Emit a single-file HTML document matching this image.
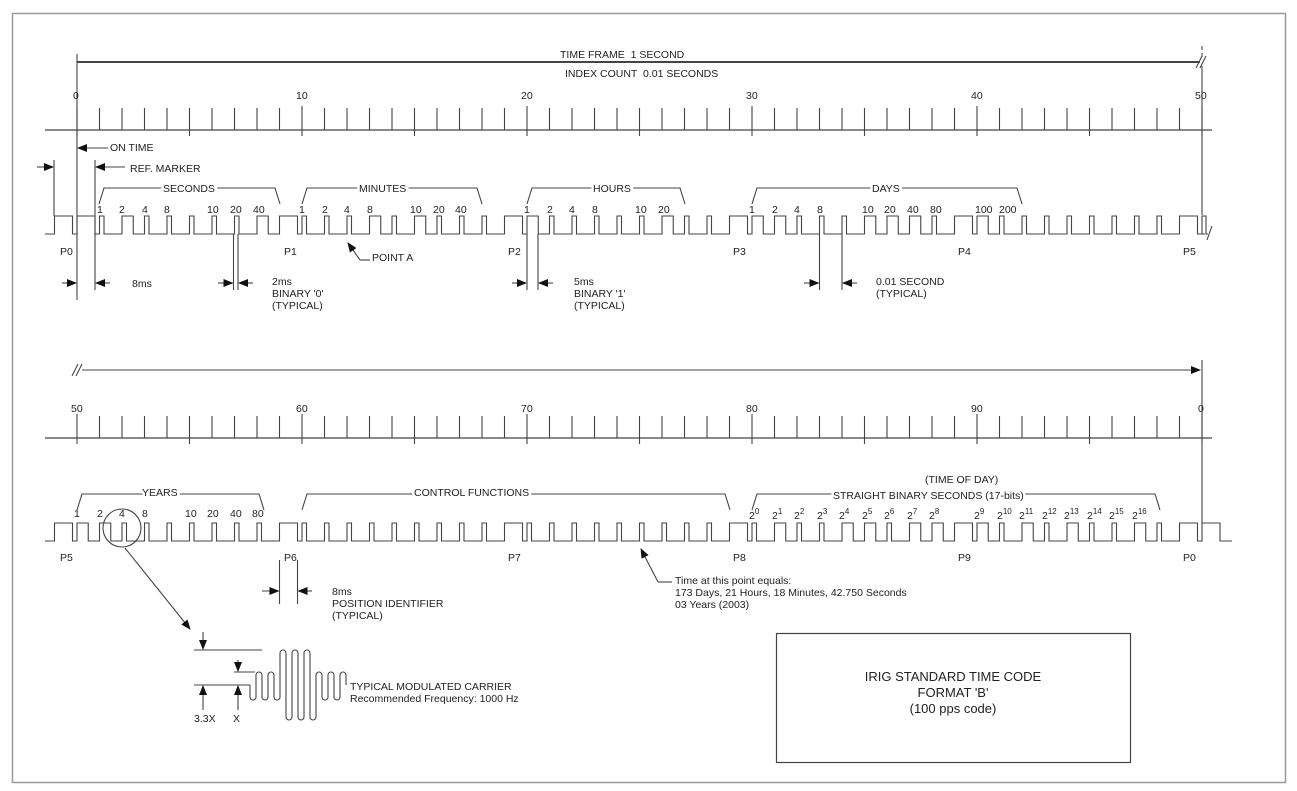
<!DOCTYPE html>
<html><head><meta charset="utf-8">
<style>
html,body{margin:0;padding:0;background:#fff;}
svg{display:block;}
text{font-family:"Liberation Sans",sans-serif;font-size:10.5px;fill:#222;}
.s{font-size:10px;}
.b{font-size:13px;}
.k{stroke:#fff;stroke-width:5px;paint-order:stroke;}
</style></head>
<body>
<svg id="sv" width="1297" height="791" viewBox="0 0 1297 791" xmlns="http://www.w3.org/2000/svg">
<defs>
<marker id="ah" markerWidth="10" markerHeight="8" refX="9" refY="4" orient="auto" markerUnits="userSpaceOnUse">
<path d="M0,0 L10,4 L0,8 z" fill="#111"/></marker>
</defs>
<rect x="12.5" y="13.5" width="1273" height="769" fill="none" stroke="#999" stroke-width="1.5"/>
<g id="g" fill="none" stroke="#444" stroke-width="1.1"></g>
<g id="labels">
<!-- Time frame -->
<text x="560" y="58">TIME FRAME &#160;1 SECOND</text>
<text x="565" y="77">INDEX COUNT &#160;0.01 SECONDS</text>

<text x="73" y="99">0</text><text x="296" y="99">10</text><text x="521" y="99">20</text>
<text x="746" y="99">30</text><text x="971" y="99">40</text><text x="1195" y="99">50</text>
<text x="71" y="412">50</text><text x="296" y="412">60</text><text x="521" y="412">70</text>
<text x="746" y="412">80</text><text x="971" y="412">90</text><text x="1198" y="412">0</text>

<text x="110" y="151">ON TIME</text>
<text x="130" y="172">REF. MARKER</text>

<text class="k" x="163" y="192">SECONDS</text>
<text class="k" x="359" y="192">MINUTES</text>
<text class="k" x="593" y="192">HOURS</text>
<text class="k" x="872" y="192">DAYS</text>

<g class="s">
<text x="97" y="213">1</text><text x="119" y="213">2</text><text x="142" y="213">4</text><text x="164" y="213">8</text>
<text x="207" y="213">10</text><text x="230" y="213">20</text><text x="253" y="213">40</text>
<text x="299" y="213">1</text><text x="322" y="213">2</text><text x="344" y="213">4</text><text x="367" y="213">8</text>
<text x="410" y="213">10</text><text x="433" y="213">20</text><text x="455" y="213">40</text>
<text x="524" y="213">1</text><text x="547" y="213">2</text><text x="569" y="213">4</text><text x="592" y="213">8</text>
<text x="635" y="213">10</text><text x="658" y="213">20</text>
<text x="749" y="213">1</text><text x="772" y="213">2</text><text x="794" y="213">4</text><text x="817" y="213">8</text>
<text x="862" y="213">10</text><text x="884" y="213">20</text><text x="907" y="213">40</text><text x="930" y="213">80</text>
<text x="975" y="213">100</text><text x="999" y="213">200</text>
</g>

<text x="60" y="255">P0</text><text x="284" y="255">P1</text><text x="508" y="255">P2</text>
<text x="733" y="255">P3</text><text x="958" y="255">P4</text><text x="1183" y="255">P5</text>

<text x="372" y="261">POINT A</text>
<text x="132" y="287">8ms</text>
<text x="272" y="285">2ms</text><text x="272" y="297">BINARY '0'</text><text x="272" y="309">(TYPICAL)</text>
<text x="574" y="285">5ms</text><text x="574" y="297">BINARY '1'</text><text x="574" y="309">(TYPICAL)</text>
<text x="876" y="285">0.01 SECOND</text><text x="876" y="297">(TYPICAL)</text>

<text class="k" x="142" y="496">YEARS</text>
<text class="k" x="414" y="496">CONTROL FUNCTIONS</text>
<text x="925" y="483">(TIME OF DAY)</text>
<text class="k" x="833" y="499">STRAIGHT BINARY SECONDS (17-bits)</text>
<g class="s">
<text x="74" y="517">1</text><text x="97" y="517">2</text><text x="119" y="517">4</text><text x="142" y="517">8</text>
<text x="185" y="517">10</text><text x="207" y="517">20</text><text x="230" y="517">40</text><text x="252" y="517">80</text>
</g>

<text x="60" y="561">P5</text><text x="284" y="561">P6</text><text x="508" y="561">P7</text>
<text x="733" y="561">P8</text><text x="958" y="561">P9</text><text x="1183" y="561">P0</text>

<text x="332" y="595">8ms</text><text x="332" y="607">POSITION IDENTIFIER</text><text x="332" y="619">(TYPICAL)</text>
<text x="675" y="584">Time at this point equals:</text>
<text x="675" y="596">173 Days, 21 Hours, 18 Minutes, 42.750 Seconds</text>
<text x="675" y="608">03 Years (2003)</text>

<text x="350" y="690">TYPICAL MODULATED CARRIER</text>
<text x="350" y="702">Recommended Frequency: 1000 Hz</text>
<text x="194" y="722">3.3X</text><text x="233" y="722">X</text>

<rect x="776.5" y="633.5" width="354" height="129" fill="none" stroke="#444" stroke-width="1.2"/>
<text class="b" x="953" y="681" text-anchor="middle">IRIG STANDARD TIME CODE</text>
<text class="b" x="953" y="697" text-anchor="middle">FORMAT 'B'</text>
<text class="b" x="953" y="713" text-anchor="middle">(100 pps code)</text>

<g font-size="10">
<text x="749" y="519">2<tspan dy="-5" font-size="8">0</tspan></text>
<text x="772" y="519">2<tspan dy="-5" font-size="8">1</tspan></text>
<text x="794" y="519">2<tspan dy="-5" font-size="8">2</tspan></text>
<text x="817" y="519">2<tspan dy="-5" font-size="8">3</tspan></text>
<text x="839" y="519">2<tspan dy="-5" font-size="8">4</tspan></text>
<text x="862" y="519">2<tspan dy="-5" font-size="8">5</tspan></text>
<text x="884" y="519">2<tspan dy="-5" font-size="8">6</tspan></text>
<text x="907" y="519">2<tspan dy="-5" font-size="8">7</tspan></text>
<text x="929" y="519">2<tspan dy="-5" font-size="8">8</tspan></text>
<text x="974" y="519">2<tspan dy="-5" font-size="8">9</tspan></text>
<text x="997" y="519">2<tspan dy="-5" font-size="8">10</tspan></text>
<text x="1019" y="519">2<tspan dy="-5" font-size="8">11</tspan></text>
<text x="1042" y="519">2<tspan dy="-5" font-size="8">12</tspan></text>
<text x="1064" y="519">2<tspan dy="-5" font-size="8">13</tspan></text>
<text x="1087" y="519">2<tspan dy="-5" font-size="8">14</tspan></text>
<text x="1109" y="519">2<tspan dy="-5" font-size="8">15</tspan></text>
<text x="1132" y="519">2<tspan dy="-5" font-size="8">16</tspan></text>
</g>
</g>
</svg>
<script>
(function(){
var g=document.getElementById('g'),NS='http://www.w3.org/2000/svg';
function el(t,a){var e=document.createElementNS(NS,t);for(var k in a)e.setAttribute(k,a[k]);g.appendChild(e);return e;}
function L(x1,y1,x2,y2,arr,extra){var e=el('line',{x1:x1,y1:y1,x2:x2,y2:y2});if(arr)e.setAttribute('marker-end','url(#ah)');if(extra)for(var k in extra)e.setAttribute(k,extra[k]);return e;}
function P(d){return el('path',{d:d});}
var S=22.5;
L(77,54,77,300);L(77,62,1200,62,false,{'stroke-width':2});
P('M1196,68 L1202,56 M1200,68 L1206,56');
L(1202,46,1202,58,false,{'stroke-dasharray':'4,3'});L(1202,66,1202,215);
function axis(y){L(45,y,1212,y,false,{'stroke-width':1.3});
 for(var i=0;i<=50;i++){var x=77+i*S;var top=y-22,bot=y;if(i%5==0)bot=y+6;if(i%10==0){top=y-24;bot=y+6;}L(x,top,x,bot);}}
axis(130);axis(438);
var b=[];for(var i=0;i<100;i++)b[i]=0;
[9,19,29,39,49,59,69,79,89,99,0].forEach(function(i){b[i]=2;});
[2,8,13,15,20,26,30,31,35,36,37,40,50,51].forEach(function(i){b[i]=1;});
var v=76722;for(var k=0;k<17;k++){if((v>>k)&1){var bi=k<9?80+k:81+k;b[bi]=1;}}
var W=[4.5,11.25,18];
function wave(y0,start,end,base,tail,lead){var hi=y0,lo=y0+18;var d='M'+lead+','+lo;
 for(var i=start;i<=end;i++){var x=base+(i-start)*S;var w=W[b[(i+100)%100]];d+=' L'+x+','+lo+' L'+x+','+hi+' L'+(x+w)+','+hi+' L'+(x+w)+','+lo;}
 d+=' L'+tail+','+lo;P(d);}
wave(216,-1,49,54.5,1205,45);
P('M1202,234 L1202,216 L1206,216 L1206,234 L1208,234');P('M1207,240 L1212,226');
wave(523,49,100,54.5,1232,45);
L(82,370,1200,370,true);P('M72,376 L78,364 M76,376 L82,364');L(1202,360,1202,523);
function br(x1,x2,y){P('M'+x1+','+(y+16)+' L'+(x1+5)+','+y+' L'+(x2-5)+','+y+' L'+x2+','+(y+16));}
br(99,280,188);br(302,482,188);br(527,685,188);br(752,1022,188);
br(77,264,494);br(302,730,494);br(752,1160,494);
L(108,148,78,148,true);
L(37,167,53,167,true);L(54,160,54,216);
L(125,167,96,167,true);L(95,160,95,290);
L(62,283,76,283,true);L(110,283,96,283,true);
L(233.5,234,233.5,290);L(238,234,238,290);L(218,283,232.5,283,true);L(253,283,239,283,true);
L(527,234,527,290);L(538,234,538,290);L(512,283,526,283,true);L(553,283,539,283,true);
L(819.5,234,819.5,290);L(842,234,842,290);L(804,283,818.5,283,true);L(857,283,843,283,true);
P('M370,260 L360,260');L(360,260,348,243,true);
el('circle',{cx:122,cy:528,r:19});
L(125,548,190,629,true);
L(279.5,560,279.5,604);L(297.5,560,297.5,604);L(262,591,278.5,591,true);L(312,591,298.5,591,true);
P('M672,582 L658,582');L(658,582,641,549,true);
L(194,650,262,650);L(234,672,255,672);L(194,685,250,685);
L(203,632,203,649,true);L(238,660,238,671,true);
L(203,710,203,686,true);L(238,710,238,686,true);
var ys=[700,672,700,672,700,650,720,650,720,650,720,672,700,672,700,672];
var d='M250,685';for(var i=0;i<ys.length;i++){var cx=253+6*i,y=ys[i];
 if(i%2==0)d+=' L'+(cx-3)+','+(y-3)+' A3,3 0 0 0 '+(cx+3)+','+(y-3);
 else d+=' L'+(cx-3)+','+(y+3)+' A3,3 0 0 1 '+(cx+3)+','+(y+3);}
d+=' L'+(253+6*15+3)+',685';P(d);
})();
</script>
</body></html>
